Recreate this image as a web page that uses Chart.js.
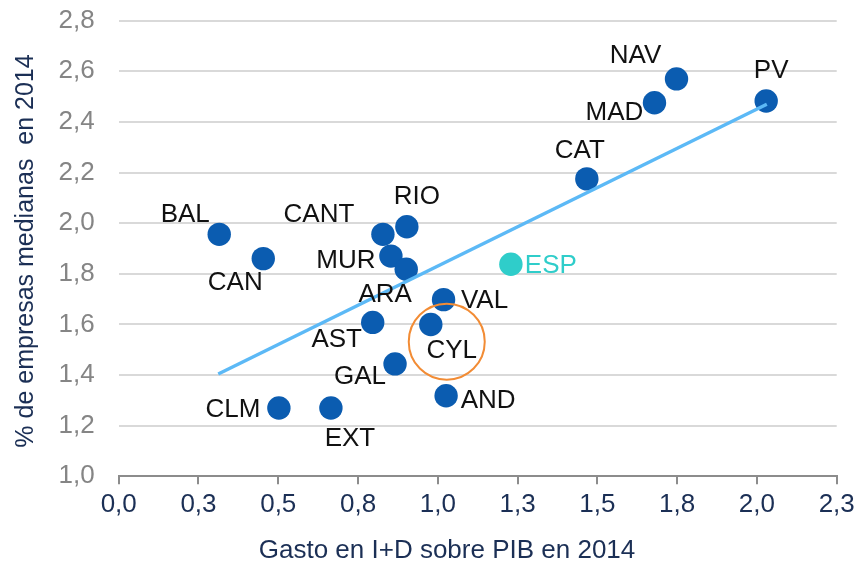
<!DOCTYPE html>
<html>
<head>
<meta charset="utf-8">
<script src="https://cdn.jsdelivr.net/npm/chart.js@4.4.1/dist/chart.umd.min.js"></script>
<style>
  html, body { margin: 0; padding: 0; background: #ffffff; }
  #wrap { width: 860px; height: 566px; position: relative; }
</style>
</head>
<body>
<div id="wrap"><canvas id="c"></canvas></div>
<script>
// ---- data ----
const regions  = ['BAL','CAN','CLM','EXT','AST','CANT','MUR','GAL','ARA','RIO','CYL','VAL','AND','ESP','CAT','MAD','NAV','PV'];
const gasto    = [0.315,0.453,0.502,0.665,0.796,0.828,0.853,0.866,0.901,0.903,0.978,1.018,1.026,1.229,1.467,1.679,1.748,2.029];
const empresas = [1.956,1.860,1.270,1.270,1.608,1.956,1.870,1.444,1.818,1.986,1.600,1.698,1.318,1.838,2.175,2.476,2.570,2.483];
const trendX   = [0.312, 2.031];
const trendY   = [1.404, 2.470];
const highlightX = [1.028];
const highlightY = [1.532];
const xTicks = [0,0.25,0.5,0.75,1.0,1.25,1.5,1.75,2.0,2.25];
const yTicks = [1.0,1.2,1.4,1.6,1.8,2.0,2.2,2.4,2.6,2.8];
const xTitle = 'Gasto en I+D sobre PIB en 2014';
const yTitle = '% de empresas medianas  en 2014';

// ---- styling / label placement (pixel offsets of label centres) ----
const labelOffsets = {
  BAL:[-34,-19], CAN:[-28,24], CLM:[-46,2], EXT:[19,31], AST:[-36,17], CANT:[-64,-19],
  MUR:[-45,5], GAL:[-35,13], ARA:[-21,26], RIO:[10,-30], CYL:[21,26], VAL:[41,1],
  AND:[42,5], ESP:[40,2], CAT:[-7,-28], MAD:[-40,10], NAV:[-41,-23], PV:[5,-30]
};
const FONT = '"Liberation Sans", Arial, sans-serif';

const points = regions.map((r,i)=>({x:gasto[i], y:empresas[i], label:r}));
const pointColors = regions.map(r => r==='ESP' ? '#2fcdca' : '#0b5cb0');

const labelPlugin = {
  id: 'labels',
  afterDatasetsDraw(chart) {
    const {ctx, scales:{x, y}} = chart;
    ctx.save();
    ctx.font = '26px ' + FONT;
    ctx.textAlign = 'center';
    ctx.textBaseline = 'middle';
    points.forEach(p => {
      const off = labelOffsets[p.label] || [0,0];
      ctx.fillStyle = p.label==='ESP' ? '#2fcdca' : '#111111';
      ctx.fillText(p.label, x.getPixelForValue(p.x)+off[0], y.getPixelForValue(p.y)+off[1]);
    });
    // axis titles
    ctx.fillStyle = '#1b2f55';
    ctx.font = '26px ' + FONT;
    ctx.fillText(xTitle, 447, 551);
    ctx.font = '25px ' + FONT;
    ctx.translate(26, 251);
    ctx.rotate(-Math.PI/2);
    ctx.fillText(yTitle, 0, 0);
    ctx.restore();
  }
};

const fmt = v => (Math.round(v*10)/10).toFixed(1).replace('.', ',');

new Chart(document.getElementById('c'), {
  type: 'scatter',
  data: {
    datasets: [
      {
        type: 'line',
        data: trendX.map((v,i)=>({x:v, y:trendY[i]})),
        borderColor: '#5cb9f6',
        borderWidth: 3.5,
        pointRadius: 0,
        fill: false,
        order: 0
      },
      {
        data: points,
        backgroundColor: pointColors,
        borderColor: pointColors,
        borderWidth: 0,
        pointRadius: 11.7,
        pointHoverRadius: 11.7,
        order: 2
      },
      {
        data: highlightX.map((v,i)=>({x:v, y:highlightY[i]})),
        backgroundColor: 'rgba(0,0,0,0)',
        borderColor: '#f28c35',
        borderWidth: 2,
        pointRadius: 38,
        pointHoverRadius: 38,
        order: 1
      }
    ]
  },
  options: {
    responsive: true,
    maintainAspectRatio: false,
    animation: false,
    events: [],
    layout: { autoPadding: false, padding: { top: 20.7, right: 23.3, left: 0, bottom: 0 } },
    plugins: { legend: { display: false }, tooltip: { enabled: false } },
    scales: {
      x: {
        type: 'linear',
        min: 0, max: 2.25,
        afterBuildTicks: s => { s.ticks = xTicks.map(v => ({value: v})); },
        afterFit: s => { s.height = 89.7; s.paddingLeft = 0; s.paddingRight = 0; },
        ticks: {
          callback: v => fmt(v),
          color: '#1b2f55',
          font: { family: FONT, size: 26 },
          padding: 5,
          maxRotation: 0,
          autoSkip: false
        },
        grid: { drawOnChartArea: false, color: '#8c8c8c', lineWidth: 2, tickLength: 8 },
        border: { color: '#8c8c8c', width: 2 }
      },
      y: {
        type: 'linear',
        min: 1.0, max: 2.8,
        afterBuildTicks: s => { s.ticks = yTicks.map(v => ({value: v})); },
        afterFit: s => { s.width = 118.7; s.paddingTop = 0; s.paddingBottom = 0; },
        ticks: {
          callback: v => fmt(v),
          color: '#858585',
          font: { family: FONT, size: 26 },
          padding: 24
        },
        grid: { color: '#d9d9d9', lineWidth: 2, tickLength: 0, drawTicks: false },
        border: { display: false }
      }
    }
  },
  plugins: [labelPlugin]
});
</script>
</body>
</html>
